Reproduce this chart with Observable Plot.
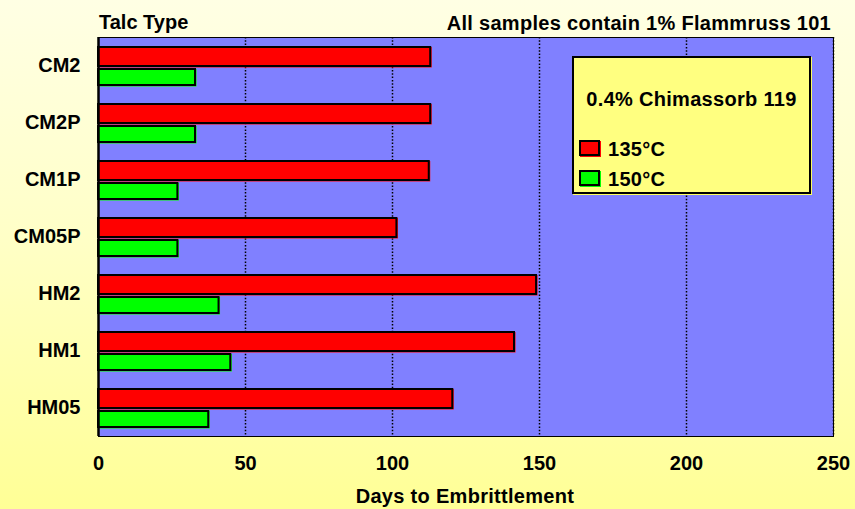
<!DOCTYPE html>
<html>
<head>
<meta charset="utf-8">
<script src="https://cdn.jsdelivr.net/npm/d3@7"></script>
<script src="https://cdn.jsdelivr.net/npm/@observablehq/plot@0.6"></script>
<style>
  html, body { margin: 0; padding: 0; }
  #chart {
    position: relative;
    width: 855px;
    height: 509px;
    background: linear-gradient(to bottom, #FFFFE4 0%, #FFFFC8 45%, #FFFF96 100%);
    font-family: "Liberation Sans", Arial, sans-serif;
    font-weight: bold;
    color: #000;
    overflow: hidden;
  }
  .lbl { position: absolute; font-size: 20px; white-space: nowrap; line-height: 1; letter-spacing: 0.3px; }
  #legend {
    position: absolute;
    left: 572px; top: 56px;
    width: 235px; height: 134px;
    background: #FFFF80;
    border: 2px solid #000;
    box-shadow: 1px 1px 0 #FFFF60;
  }
  .sw { position: absolute; width: 17px; height: 12px; border: 2px solid #000; }
</style>
</head>
<body>
<div id="chart"></div>
<script>
// Talc grades and days to embrittlement at the two oven temperatures
const categories = ["CM2", "CM2P", "CM1P", "CM05P", "HM2", "HM1", "HM05"];
const days135 = [113, 113, 112.5, 101.5, 149, 141.5, 120.5];
const days150 = [33, 33, 27, 27, 41, 45, 37.5];
const series = ["135°C", "150°C"];
const seriesColors = ["#FF0000", "#00FF00"];
const xTicks = [0, 50, 100, 150, 200, 250];
const gridTicks = [50, 100, 150, 200, 250];

const rows135 = categories.map((c, i) => ({category: c, days: days135[i]}));
const rows150 = categories.map((c, i) => ({category: c, days: days150[i]}));

// Each bar: a coloured slab reaching slightly past the value, then a black outline on top,
// so the colour shows as a thin rim along the right and bottom edges
function slab(data, color, top, bottom) {
  return [
    Plot.barX(data, {x: "days", y: "category", fill: color,
      insetTop: top, insetBottom: bottom - 1.5, insetRight: -1.5}),
    Plot.barX(data, {x: "days", y: "category", fill: color, stroke: "#000", strokeWidth: 2,
      insetTop: top, insetBottom: bottom})
  ];
}

const plot = Plot.plot({
  width: 855,
  height: 509,
  marginLeft: 98,
  marginRight: 22,
  marginTop: 37,
  marginBottom: 73,
  style: {background: "transparent", fontFamily: "'Liberation Sans', Arial, sans-serif",
          fontSize: "20px", fontWeight: "bold", color: "#000"},
  x: {domain: [0, 250], ticks: xTicks, tickSize: 0, tickPadding: 19, label: null},
  y: {domain: categories, padding: 0, tickSize: 0, tickPadding: 18, label: null},
  marks: [
    Plot.frame({fill: "#8080FF"}),
    Plot.ruleX(gridTicks, {stroke: "#000", strokeWidth: 1.5, strokeDasharray: "1.5,1.8"}),
    ...slab(rows135, seriesColors[0], 10, 28),
    ...slab(rows150, seriesColors[1], 32, 9),
    Plot.frame({stroke: "#000", strokeWidth: 1}),
    Plot.axisX({ticks: xTicks, tickSize: 0, tickPadding: 19, label: null}),
    Plot.axisY({tickSize: 0, tickPadding: 18, label: null}),
    Plot.ruleX([0], {stroke: "#000", strokeWidth: 2.5}),
    Plot.ruleY([0], {frameAnchor: "bottom", stroke: "#000", strokeWidth: 2.5})
  ]
});

const chart = document.getElementById("chart");
chart.appendChild(plot);
plot.style.position = "absolute";
plot.style.left = "0";
plot.style.top = "0";

function addLabel(text, css) {
  const d = document.createElement("div");
  d.className = "lbl";
  d.textContent = text;
  Object.assign(d.style, css);
  chart.appendChild(d);
  return d;
}

addLabel("Talc Type", {left: "99px", top: "12px", letterSpacing: "0"});
addLabel("All samples contain 1% Flammruss 101", {right: "24px", top: "13px"});
addLabel("Days to Embrittlement", {left: "0", width: "930px", textAlign: "center", top: "486px"});

// Legend box
const legend = document.createElement("div");
legend.id = "legend";
chart.appendChild(legend);
const head = document.createElement("div");
head.className = "lbl";
head.textContent = "0.4% Chimassorb 119";
Object.assign(head.style, {left: "0", width: "100%", textAlign: "center", top: "31px"});
legend.appendChild(head);
series.forEach((s, i) => {
  const sw = document.createElement("div");
  sw.className = "sw";
  sw.style.background = seriesColors[i];
  sw.style.left = "5px";
  sw.style.top = (82 + i * 30) + "px";
  sw.style.boxShadow = "1px 1px 0 " + seriesColors[i];
  legend.appendChild(sw);
  const t = document.createElement("div");
  t.className = "lbl";
  t.textContent = s;
  t.style.left = "34px";
  t.style.top = (81 + i * 30) + "px";
  legend.appendChild(t);
});
</script>
</body>
</html>
